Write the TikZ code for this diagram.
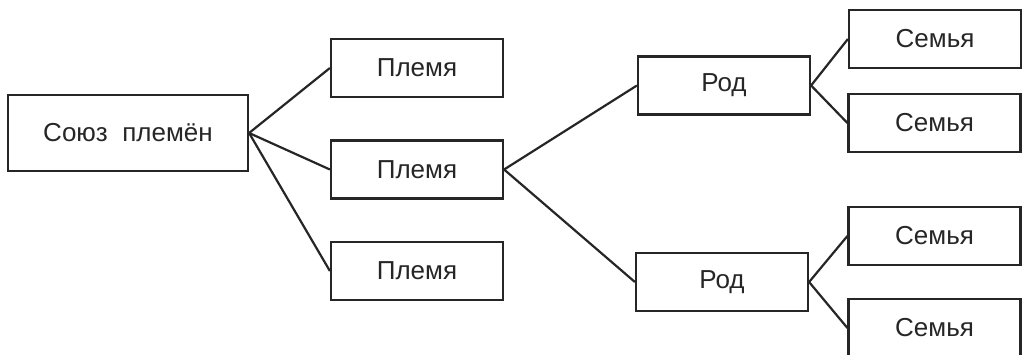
\documentclass[tikz,border=0pt]{standalone}
\usepackage{fontspec}
\setmainfont{Liberation Sans}
\begin{document}
\begin{tikzpicture}[x=1pt,y=-1pt]
        \tikzstyle{unit}=[rectangle,draw=black!85,line width=2.2pt,inner sep=0pt,minimum width=172pt,minimum height=58pt,text=black!85,font=\fontsize{26}{30}\selectfont]
        \tikzstyle{edge}=[draw,line width=2.2pt,black!85]
        \useasboundingbox (0,0) rectangle (1028,354);
       \begin{scope}
         \node [unit,minimum width=240pt,minimum height=76pt] (u) at (128,133) {Союз~~племён};
         \node [unit] (t1) at (417,68) {Племя};
         \node [unit] (t2) at (417,169.5) {Племя};
         \node [unit] (t3) at (417,271) {Племя};
         \node [unit] (r1) at (724,85.5) {Род};
         \node [unit] (r2) at (722,282) {Род};
         \node [unit] (f1) at (935,39) {Семья};
         \node [unit] (f2) at (934.5,123) {Семья};
         \node [unit] (f3) at (934.5,236) {Семья};
         \node [unit] (f4) at (934.5,328) {Семья};
         \path[edge] (u.east) -- (t1.west);
         \path[edge] (u.east) -- (t2.west);
         \path[edge] (u.east) -- (t3.west);
         \path[edge] (t2.east) -- (r1.west);
         \path[edge] (t2.east) -- (r2.west);
         \path[edge] (r1.east) -- (f1.west);
         \path[edge] (r1.east) -- (f2.west);
         \path[edge] (r2.east) -- (f3.west);
         \path[edge] (r2.east) -- (f4.west);
        \end{scope}
\end{tikzpicture}
\end{document}
